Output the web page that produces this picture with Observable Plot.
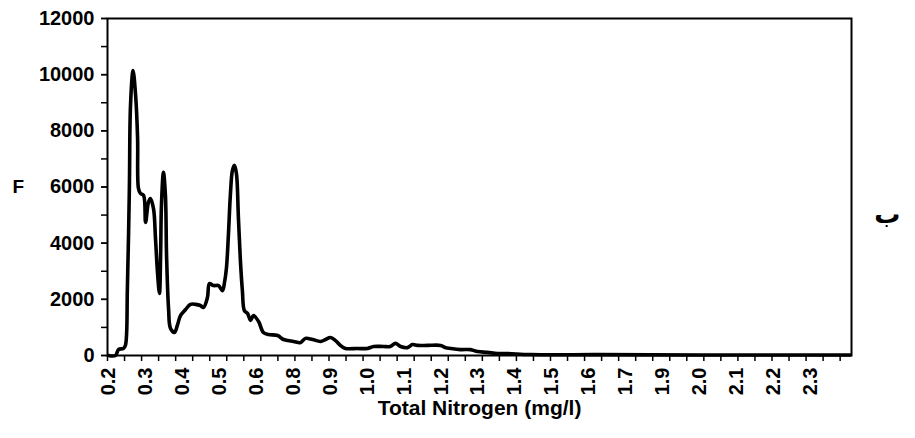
<!DOCTYPE html>
<html>
<head>
<meta charset="utf-8">
<script src="https://cdn.jsdelivr.net/npm/d3@7"></script>
<script src="https://cdn.jsdelivr.net/npm/@observablehq/plot@0.6"></script>
<style>
  html, body { margin: 0; padding: 0; background: #fff; }
  #chart { width: 915px; height: 438px; }
</style>
</head>
<body>
<div id="chart"></div>
<script>
// Category index along the axis (Excel-style category axis) and fluorescence F
const category = [0.35, 2.8, 3.9, 5.6, 6.3, 7.0, 7.7, 8.1, 9.0, 9.9, 10.6, 10.9, 11.6, 12.7, 13.4, 14.4, 15.1, 16.2, 16.9, 17.6, 18.3, 18.7, 19.0, 19.7, 20.4, 20.8, 21.5, 22.2, 23.6, 24.6, 25.7, 27.5, 29.2, 31.0, 32.7, 33.8, 35.2, 35.9, 37.3, 39.1, 40.5, 41.2, 41.9, 42.6, 43.3, 44.0, 44.7, 45.4, 46.1, 46.8, 47.5, 48.2, 49.3, 50.4, 51.4, 53.2, 54.9, 56.7, 59.9, 62.0, 65.5, 68.0, 69.7, 72.2, 75.0, 76.8, 78.5, 80.3, 82.0, 83.8, 88.0, 91.5, 93.7, 97.2, 99.6, 101.4, 103.2, 105.6, 107.4, 109.2, 112.7, 117.3, 119.0, 120.8, 124.3, 127.8, 130.3, 133.8, 137.3, 140.8, 148.9, 173.6, 208.8, 261.6];
const fValues = [0, 0, 214, 250, 356, 2386, 5947, 8900, 10150, 9260, 7730, 5950, 5770, 5700, 4740, 5450, 5590, 5230, 4170, 2960, 2210, 3560, 5340, 6520, 5700, 3560, 1670, 960, 820, 1070, 1420, 1640, 1820, 1820, 1780, 1710, 2070, 2560, 2490, 2490, 2310, 2600, 3130, 4340, 5770, 6590, 6770, 6480, 4910, 3380, 2310, 1600, 1500, 1250, 1420, 1210, 820, 750, 710, 570, 500, 460, 610, 570, 500, 570, 640, 530, 360, 250, 250, 250, 320, 320, 320, 430, 320, 280, 390, 360, 360, 360, 280, 250, 210, 210, 140, 110, 70, 70, 35, 30, 20, 20];

// Axis labels (every 13 categories) and tick marks (every 6 categories)
const tickLabels = ["0.2", "0.3", "0.4", "0.5", "0.6", "0.8", "0.9", "1.0", "1.1", "1.2", "1.3", "1.4", "1.5", "1.6", "1.7", "1.9", "2.0", "2.1", "2.2", "2.3"];
const labelEvery = 13;
const tickEvery = 6;
const categoryCount = 262;
const yMajor = [0, 2000, 4000, 6000, 8000, 10000, 12000];
const yMinor = [0, 1000, 2000, 3000, 4000, 5000, 6000, 7000, 8000, 9000, 10000, 11000, 12000];

const xTitle = "Total Nitrogen (mg/l)";
const yTitle = "F";
const sideMark = "ب";

const data = category.map((c, i) => ({c, f: fValues[i]}));
const labelPos = tickLabels.map((_, i) => i * labelEvery + 0.5);
const labelMap = new Map(labelPos.map((p, i) => [p, tickLabels[i]]));
const tickPos = d3.range(0, categoryCount, tickEvery);

const chart = Plot.plot({
  width: 915,
  height: 438,
  marginTop: 18,
  marginRight: 64,
  marginBottom: 83,
  marginLeft: 107,
  style: {fontFamily: "'Liberation Sans', Arial, sans-serif", fontSize: "20px", fontWeight: "bold", color: "#000", background: "#fff"},
  x: {domain: [0, categoryCount]},
  y: {domain: [0, 12000]},
  marks: [
    Plot.line(data, {x: "c", y: "f", stroke: "#000", strokeWidth: 3.6, curve: "catmull-rom", strokeLinejoin: "round"}),
    Plot.frame({stroke: "#000", strokeWidth: 2}),
    Plot.axisY(yMinor, {tickSize: 6, tickFormat: () => "", strokeWidth: 1.5, label: null}),
    Plot.axisY(yMajor, {tickSize: 6, tickPadding: 7, tickFormat: d3.format("d"), fontSize: 20, fontWeight: "bold", strokeWidth: 1.5, label: null}),
    Plot.axisX(tickPos, {tickSize: 6, tickFormat: () => "", strokeWidth: 1.5, label: null}),
    Plot.axisX(labelPos, {tickSize: 0, tickPadding: 12, tickRotate: -90, tickFormat: d => labelMap.get(d), fontSize: 20, fontWeight: "bold", label: null}),
    Plot.text([yTitle], {frameAnchor: "left", dx: -95, fontSize: 19, fontWeight: "bold", fill: "#000"}),
    Plot.text([xTitle], {frameAnchor: "bottom", dy: 59, fontSize: 21, fontWeight: "bold", fill: "#000"}),
    Plot.text([sideMark], {frameAnchor: "right", dx: 49, dy: 28, fontSize: 26, fontWeight: "bold", fill: "#000", fontFamily: "'DejaVu Sans', sans-serif"})
  ]
});
document.getElementById("chart").appendChild(chart);
</script>
</body>
</html>
